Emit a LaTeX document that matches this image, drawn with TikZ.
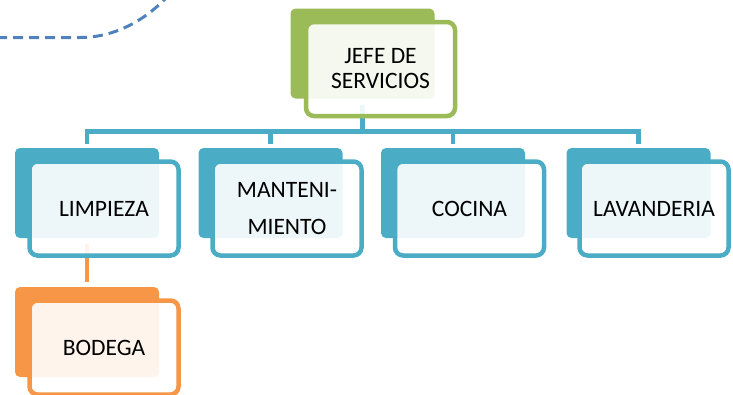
\documentclass[tikz,border=0pt]{standalone}
\usepackage{fontspec}
\setmainfont{Carlito}
\definecolor{cgreen}{HTML}{9BBB59}
\definecolor{cblue}{HTML}{4BACC6}
\definecolor{corange}{HTML}{F79646}
\definecolor{cdash}{HTML}{4F81BD}
\tikzset{
  backbox/.style={rectangle, rounded corners=5pt, fill=#1, draw=none,
    minimum width=144pt, minimum height=90pt, inner sep=0pt},
  frontbox/.style={rectangle, rounded corners=8pt, draw=#1, line width=4.5pt,
    fill=white, fill opacity=0.9, text opacity=1, text=black,
    minimum width=149pt, minimum height=94pt, inner sep=0pt, align=center,
    font=\fontsize{23.5}{25}\selectfont},
  conn/.style={draw=#1, line width=4.5pt},
  dashcurve/.style={draw=cdash, line width=3pt, dash pattern=on 10pt off 6pt, dash phase=3pt}
}
\begin{document}
\begin{tikzpicture}[x=1pt,y=-1pt]
\useasboundingbox (0,0) rectangle (733,394);
\coordinate (bus) at (0,131.5);
\coordinate (d0) at (0,37.5);
\coordinate (d1) at (80,37.5);
\coordinate (d2) at (167,-3);
% back boxes
\node[backbox=cgreen] (jb) at (362.5,53.5) {};
\node[backbox=cblue] (lb) at (87,193) {};
\node[backbox=cblue] (mb) at (270.5,193) {};
\node[backbox=cblue] (cb) at (453,193) {};
\node[backbox=cblue] (vb) at (638.5,193) {};
\node[backbox=corange] (bb) at (87,332) {};
% connectors
\draw[conn=cblue] ([yshift=-6pt]jb.south) -- (jb.south |- bus) -| ([yshift=4pt]lb.north);
\draw[conn=cblue] ([yshift=-6pt]jb.south) -- (jb.south |- bus) -| ([yshift=4pt]mb.north);
\draw[conn=cblue] ([yshift=-6pt]jb.south) -- (jb.south |- bus) -| ([yshift=4pt]cb.north);
\draw[conn=cblue] ([yshift=-6pt]jb.south) -- (jb.south |- bus) -| ([yshift=4pt]vb.north);
\draw[conn=corange] ([yshift=-6pt]lb.south) -- ([yshift=5pt]bb.north);
% front boxes with text
\node[frontbox=cgreen] (jf) at (380.5,69) {JEFE DE\\SERVICIOS};
\node[frontbox=cblue] (lf) at (104,208.5) {LIMPIEZA};
\node[frontbox=cblue, font=\fontsize{23.5}{36.7}\selectfont] (mf) at (287,208.5) {MANTENI-\\MIENTO};
\node[frontbox=cblue] (cf) at (469.5,208.5) {COCINA};
\node[frontbox=cblue] (vf) at (654,208.5) {LAVANDERIA};
\node[frontbox=corange] (bf) at (104,347.5) {BODEGA};
% dashed curve
\draw[dashcurve] (d0) -- (d1) .. controls (120,37.5) and (150,15) .. (d2);
\end{tikzpicture}
\end{document}
